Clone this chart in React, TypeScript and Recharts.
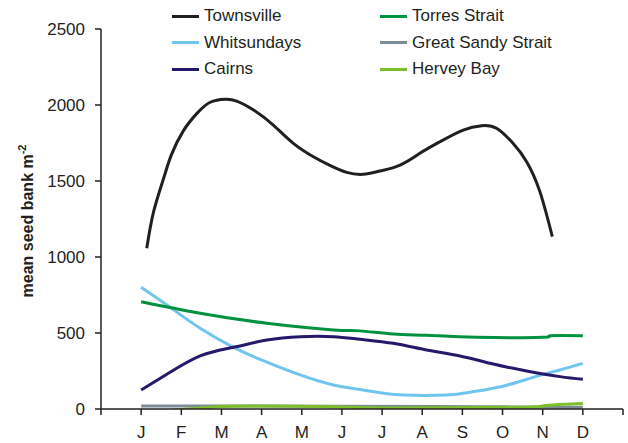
import { LineChart, Line, XAxis, YAxis } from 'recharts'

const monthLabels = ['', 'J', 'F', 'M', 'A', 'M', 'J', 'J', 'A', 'S', 'O', 'N', 'D', '']
const yTicks = [0, 500, 1000, 1500, 2000, 2500]

const townsvilleX = [1.14, 1.31, 1.56, 1.75, 2.05, 2.39, 2.72, 3.09, 3.38, 3.8, 4.29, 4.79, 5.29, 5.7, 6.12, 6.53, 6.95, 7.45, 7.94, 8.44, 9.02, 9.48, 9.85, 10.26, 10.6, 10.93, 11.24]
const townsvilleY = [1057, 1298, 1518, 1670, 1830, 1945, 2018, 2038, 2026, 1967, 1868, 1748, 1660, 1603, 1557, 1544, 1566, 1605, 1682, 1758, 1835, 1864, 1847, 1748, 1627, 1430, 1134]

const whitsundaysX = [1, 1.64, 2.47, 3.3, 4.04, 4.96, 5.79, 6.45, 6.95, 7.53, 8.61, 9.19, 10.01, 10.76, 11.43, 12]
const whitsundaysY = [801, 684, 531, 406, 318, 224, 158, 128, 107, 92, 92, 110, 150, 208, 257, 300]

const torresX = [1, 2.47, 4.13, 5.79, 6.45, 7.28, 8.11, 9.35, 11, 11.18, 12]
const torresY = [706, 630, 564, 520, 514, 493, 485, 472, 472, 482, 482]

const cairnsX = [1, 1.64, 2.47, 3.3, 4.13, 4.96, 5.79, 6.45, 7.28, 8.11, 8.94, 9.77, 10.6, 11.43, 12]
const cairnsY = [125, 228, 349, 406, 454, 476, 476, 459, 432, 388, 349, 296, 250, 213, 195]

const sandyX = [1, 4, 8.3, 10, 12]
const sandyY = [20, 20, 16, 14, 12]

const herveyX = [1.64, 2.39, 2.89, 3.71, 5.79, 7.1, 10.26, 11, 11.5, 12]
const herveyY = [-11, 5, 15, 20, 15, 7, 11, 20, 31, 37]

const zip = (xs: number[], ys: number[]) => xs.map((m, i) => ({ m, v: ys[i] }))

const series = [
  { name: 'Townsville', color: '#231f20', data: zip(townsvilleX, townsvilleY) },
  { name: 'Whitsundays', color: '#6fc5ee', data: zip(whitsundaysX, whitsundaysY) },
  { name: 'Cairns', color: '#26186b', data: zip(cairnsX, cairnsY) },
  { name: 'Torres Strait', color: '#00923f', data: zip(torresX, torresY) },
  { name: 'Great Sandy Strait', color: '#7c8c96', data: zip(sandyX, sandyY) },
  { name: 'Hervey Bay', color: '#7dbf2b', data: zip(herveyX, herveyY) },
]

const font = '"Liberation Sans", Arial, sans-serif'
const ink = '#231f20'

const LegendBox = () => (
  <div
    style={{
      position: 'absolute',
      top: 6,
      left: 172,
      display: 'grid',
      gridTemplateColumns: '208px 230px',
      rowGap: 6.5,
      fontFamily: font,
      fontSize: 17,
      color: ink,
      lineHeight: '20px',
    }}
  >
    {[0, 3, 1, 4, 2, 5].map((i) => (
      <div key={i} style={{ display: 'flex', alignItems: 'center' }}>
        <span style={{ display: 'inline-block', width: 27, height: 3, background: series[i].color, marginRight: 5 }} />
        <span>{series[i].name}</span>
      </div>
    ))}
  </div>
)

export default function App() {
  return (
    <div style={{ position: 'absolute', left: 0, top: 0, width: 628, height: 443, background: '#fff' }}>
      <LineChart width={628} height={443} margin={{ top: 29, right: 5, left: 0, bottom: 0 }}>
        <XAxis
          type="number"
          dataKey="m"
          domain={[0, 13]}
          ticks={monthLabels.map((_, i) => i)}
          tickFormatter={(v: number) => monthLabels[v]}
          interval={0}
          height={34}
          axisLine={{ stroke: ink, strokeWidth: 1.5 }}
          tickLine={{ stroke: ink, strokeWidth: 1.5 }}
          tickSize={6}
          tickMargin={11}
          tick={{ fill: ink, fontSize: 17, fontFamily: font }}
        />
        <YAxis
          type="number"
          domain={[0, 2500]}
          ticks={yTicks}
          interval={0}
          width={101}
          allowDataOverflow
          axisLine={{ stroke: ink, strokeWidth: 1.5 }}
          tickLine={{ stroke: ink, strokeWidth: 1.5 }}
          tickSize={6}
          tickMargin={10}
          tick={{ fill: ink, fontSize: 17, fontFamily: font }}
          label={{
            content: () => (
              <text
                transform="translate(33,221) rotate(-90)"
                textAnchor="middle"
                fontFamily={font}
                fontSize={16}
                fontWeight="bold"
                fill={ink}
              >
                mean seed bank m
                <tspan dy={-7} fontSize={11}>-2</tspan>
              </text>
            ),
          }}
        />
        {series.map((s) => (
          <Line
            key={s.name}
            data={s.data}
            dataKey="v"
            name={s.name}
            type="natural"
            stroke={s.color}
            strokeWidth={3}
            dot={false}
            activeDot={false}
            isAnimationActive={false}
          />
        ))}
      </LineChart>
      <LegendBox />
    </div>
  )
}
